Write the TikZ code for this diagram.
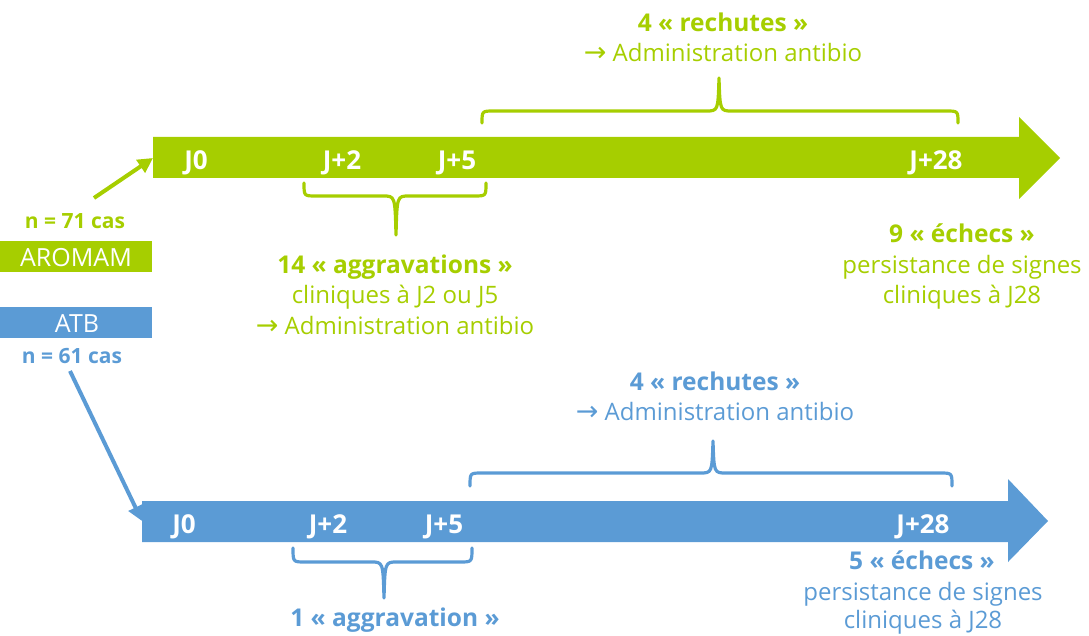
\documentclass[tikz,border=0pt]{standalone}
\usepackage{fontspec}
\setmainfont{Open Sans}
\newfontfamily\arrowf{DejaVu Sans}
\usetikzlibrary{arrows.meta}
\definecolor{gr}{RGB}{166,206,0}
\definecolor{bl}{RGB}{91,155,213}
\tikzset{
  txt/.style={inner sep=0pt, anchor=base, font=\fontsize{24}{28}\selectfont},
  btxt/.style={txt, font=\fontsize{24.5}{28}\selectfont\bfseries},
  jlab/.style={inner sep=0pt, anchor=base, text=white, font=\fontsize{26}{28}\selectfont\bfseries},
  ntxt/.style={inner sep=0pt, anchor=base, font=\fontsize{21}{24}\selectfont\bfseries},
  ltxt/.style={inner sep=0pt, anchor=base, text=white, font=\fontsize{25}{28}\selectfont},
  brace/.style={line width=3.2pt, line cap=round, line join=round},
  link/.style={line width=4pt, -{Triangle[length=15pt,width=15pt]}},
}
\newcommand{\ar}{{\arrowf\fontsize{27}{28}\selectfont →}}
\begin{document}
\begin{tikzpicture}[x=1pt,y=-1pt]
\useasboundingbox (0,0) rectangle (1089,636);

% ---------- green timeline ----------
\fill[gr] (153,137) -- (1019,137) -- (1019,117) -- (1060,158) -- (1019,199) -- (1019,178) -- (153,178) -- cycle;
\coordinate (gbar) at (153,158);
\node[jlab] (gj0) at (196,170) {J0};
\node[jlab] (gj2) at (342,170) {J+2};
\node[jlab] (gj5) at (457,170) {J+5};
\node[jlab] (gj28) at (936,170) {J+28};

% ---------- blue timeline ----------
\fill[bl] (142,501) -- (1008,501) -- (1008,479) -- (1048,521) -- (1008,562) -- (1008,542) -- (142,542) -- cycle;
\coordinate (bbar) at (142,521);
\node[jlab] (bj0) at (184,533) {J0};
\node[jlab] (bj2) at (328,533) {J+2};
\node[jlab] (bj5) at (444,533) {J+5};
\node[jlab] (bj28) at (923,533) {J+28};

% ---------- left labels ----------
\node[ntxt, text=gr] (n71) at (75,229) {n = 71 cas};
\node[fill=gr, minimum width=152pt, minimum height=31pt, inner sep=0pt, anchor=north west] (arom) at (0,241) {};
\node[ltxt] (aromt) at (76,266) {AROMAM};
\node[fill=bl, minimum width=152pt, minimum height=31pt, inner sep=0pt, anchor=north west] (atb) at (0,307) {};
\node[ltxt] (atbt) at (77,332) {ATB};
\node[ntxt, text=bl] (n61) at (72,363) {n = 61 cas};

\coordinate (gstart) at (94,198);
\coordinate (bstart) at (70,371);
\draw[link, gr] (gstart) -- (gbar);
\draw[link, bl] (bstart) -- (bbar);

% ---------- green braces ----------
\draw[brace, gr] (482,123) .. controls (482,111) .. (494,111) -- (706,111)
  .. controls (718,111) .. (719,78) .. controls (720,111) .. (732,111) -- (946,111)
  .. controls (958,111) .. (958,123);
\draw[brace, gr] (304,183) .. controls (304,196) .. (316,196) -- (383,196)
  .. controls (395,196) .. (396,235) .. controls (397,196) .. (409,196) -- (474,196)
  .. controls (486,196) .. (486,183);

% ---------- blue braces ----------
\draw[brace, bl] (470,486) .. controls (470,473) .. (482,473) -- (700,473)
  .. controls (712,473) .. (713,441) .. controls (714,473) .. (726,473) -- (940,473)
  .. controls (952,473) .. (952,486);
\draw[brace, bl] (293,548) .. controls (293,562) .. (305,562) -- (371,562)
  .. controls (383,562) .. (384,598) .. controls (385,562) .. (397,562) -- (460,562)
  .. controls (472,562) .. (472,548);

% ---------- green texts ----------
\node[btxt, text=gr] (gr1) at (723,32) {4 « rechutes »};
\node[txt, text=gr] (gr2) at (723,62) {\ar\ Administration antibio};
\node[btxt, text=gr] (ga1) at (395,273) {14 « aggravations »};
\node[txt, text=gr] (ga2) at (395,303) {cliniques à J2 ou J5};
\node[txt, text=gr] (ga3) at (395,334) {\ar\ Administration antibio};
\node[btxt, text=gr] (ge1) at (962,243) {9 « échecs »};
\node[txt, text=gr] (ge2) at (962,273) {persistance de signes};
\node[txt, text=gr] (ge3) at (962,303) {cliniques à J28};

% ---------- blue texts ----------
\node[btxt, text=bl] (br1) at (715,390) {4 « rechutes »};
\node[txt, text=bl] (br2) at (715,420) {\ar\ Administration antibio};
\node[btxt, text=bl] (ba1) at (395,626) {1 « aggravation »};
\node[btxt, text=bl] (be1) at (922,569) {5 « échecs »};
\node[txt, text=bl] (be2) at (923,600) {persistance de signes};
\node[txt, text=bl] (be3) at (923,628) {cliniques à J28};
\end{tikzpicture}
\end{document}
